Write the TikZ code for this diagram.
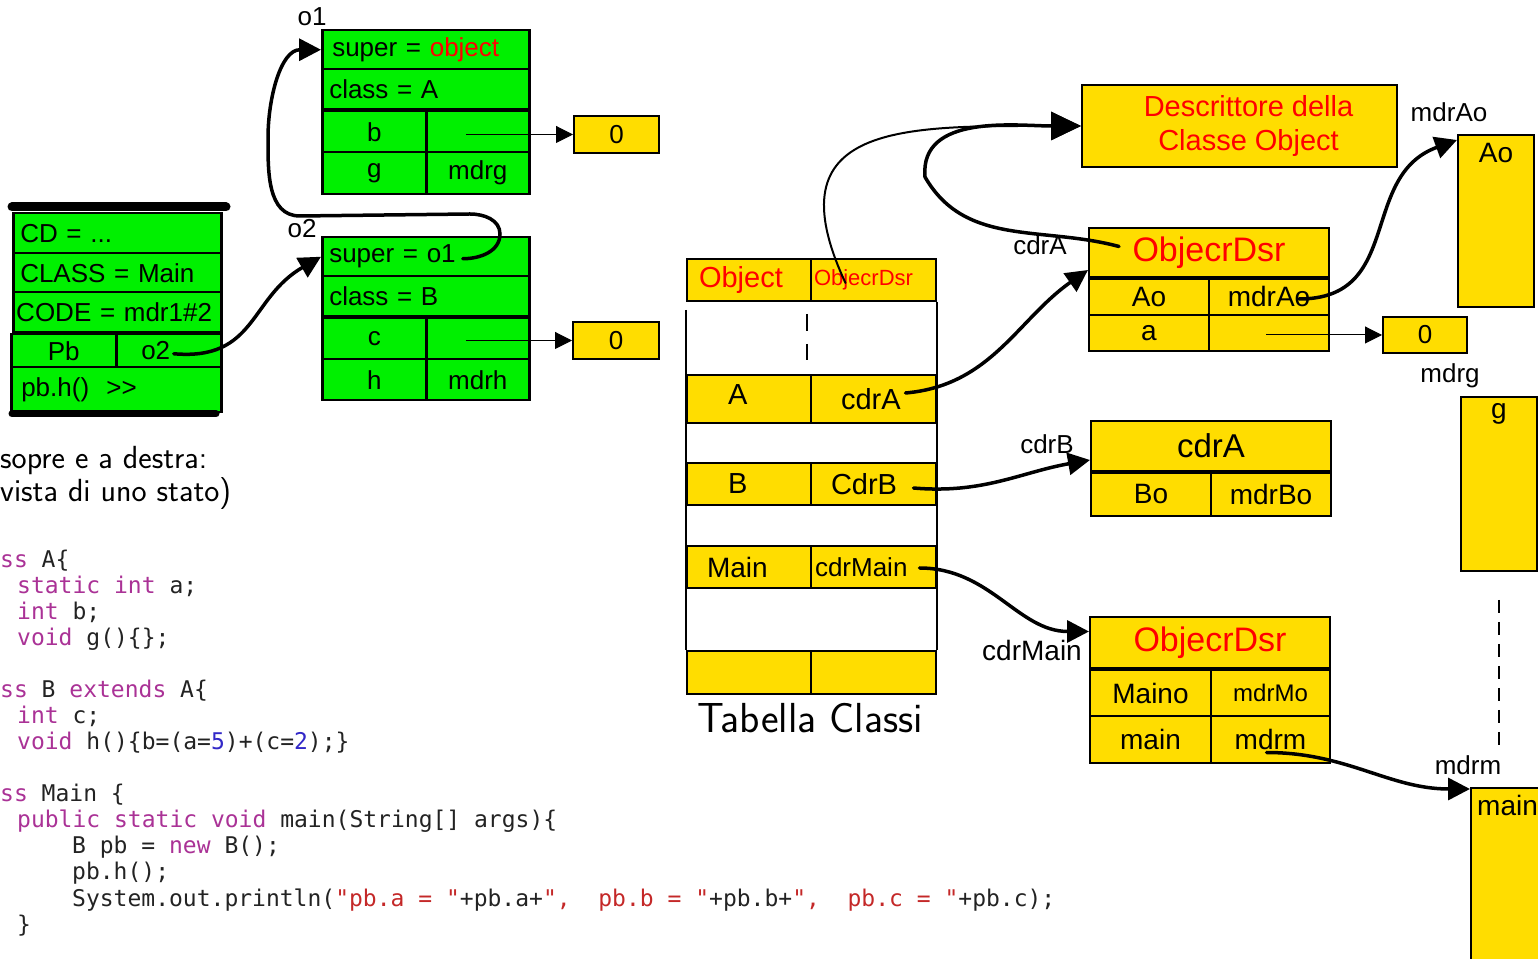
\documentclass[tikz,border=0pt]{standalone}
\usepackage{fontspec}
\setmonofont{DejaVu Sans Mono}
\newfontfamily\arial{Liberation Sans}
\usetikzlibrary{arrows.meta}
\definecolor{objgreen}{RGB}{0,240,0}
\definecolor{descyellow}{RGB}{255,221,0}
\definecolor{codekw}{RGB}{170,50,150}
\definecolor{codestr}{RGB}{196,40,40}
\definecolor{codenum}{RGB}{50,40,200}
\definecolor{codetxt}{RGB}{35,35,35}
\newcommand{\kw}[1]{\textcolor{codekw}{#1}}
\newcommand{\jstr}[1]{\textcolor{codestr}{#1}}
\newcommand{\jnum}[1]{\textcolor{codenum}{#1}}
\newcommand{\arialsz}[1]{\arial\fontsize{#1}{#1}\selectfont}
\tikzset{x=1pt,y=1pt}
\tikzset{gcell/.style={draw,fill=objgreen,line width=2.5pt,anchor=north west,inner xsep=7pt,inner ysep=0pt,font=\arialsz{26}}}
\tikzset{ycell/.style={draw,fill=descyellow,line width=2pt,anchor=north west,inner sep=0pt,font=\arialsz{29}}}
\tikzset{lbl/.style={inner sep=0pt,font=\arialsz{26}}}
\tikzset{code/.style={anchor=base west,inner sep=0pt,text=codetxt,font=\ttfamily\fontsize{23}{26}\selectfont}}
\tikzset{hand/.style={line width=3.5pt,line cap=round,-{Triangle[length=22pt,width=22pt]}}}
\tikzset{ptr/.style={line width=1pt,-{Triangle[length=17pt,width=17pt]}}}

\begin{document}
\begin{tikzpicture}
\useasboundingbox (0,0) rectangle (1538,958);
\clip (0,0) rectangle (1538,958);

% stack frame
\draw[line width=9pt,line cap=round] (12,751) -- (226,751);
\node[gcell,name=scd,text width=194pt,align=left,minimum height=40pt] at (12,746) {CD = ...};
\node[gcell,name=scl,text width=194pt,align=left,minimum height=39pt] at (12,706) {CLASS = Main};
\node[gcell,name=sco,text width=202pt,inner xsep=3pt,align=left,minimum height=40pt] at (12,667) {CODE = mdr1\#2};
\node[gcell,name=spb,minimum width=105pt,minimum height=33pt] at (10,625) {Pb};
\node[gcell,name=so2,text width=55pt,inner xsep=25pt,align=left,minimum height=33pt] at (115,625) {o2};
\node[gcell,name=scall,text width=190pt,inner xsep=10pt,align=left,minimum height=45pt] at (10,592) {pb.h()\ \ >{}>};
\draw[line width=7pt,line cap=round] (12,544) -- (216,544);

% object o1
\node[lbl,name=lo1] at (312,941) {o1};
\node[gcell,name=o1s,text width=187pt,inner xsep=10pt,align=left,minimum height=39pt] at (321,929) {super = \textcolor{red}{object}};
\node[gcell,name=o1c,text width=193pt,align=left,minimum height=40pt] at (321,890) {class = A};
\node[gcell,name=o1b,minimum width=104pt,minimum height=41pt] at (321,848) {b};
\node[gcell,name=o1bv,minimum width=103pt,minimum height=41pt] at (425,848) {};
\node[gcell,name=o1g,minimum width=104pt,minimum height=42pt] at (321,807) {g};
\node[gcell,name=o1gv,minimum width=103pt,minimum height=42pt] at (425,807) {mdrg};
\node[ycell,name=o1z,minimum width=85pt,minimum height=37pt,font=\arialsz{26}] at (573,843) {0};

% object o2
\node[lbl,name=lo2] at (302,729) {o2};
\node[gcell,name=o2s,text width=193pt,align=left,minimum height=39pt] at (321,722) {super = o1};
\node[gcell,name=o2c,text width=193pt,align=left,minimum height=40pt] at (321,683) {class = B};
\node[gcell,name=o2cc,minimum width=104pt,minimum height=41pt] at (321,641) {c};
\node[gcell,name=o2cv,minimum width=103pt,minimum height=41pt] at (425,641) {};
\node[gcell,name=o2h,minimum width=104pt,minimum height=41pt] at (321,600) {h};
\node[gcell,name=o2hv,minimum width=103pt,minimum height=41pt] at (425,600) {mdrh};
\node[ycell,name=o2z,minimum width=86pt,minimum height=37pt,font=\arialsz{26}] at (572,637) {0};

\draw[ptr] ([xshift=-12pt]o1bv.center |- o1z.west) -- (o1z.west);
\draw[ptr] ([xshift=-12pt]o2cv.center |- o2z.west) -- (o2z.west);
\draw[hand] ([xshift=5pt,yshift=-3pt]so2.center) to[out=-5,in=210,looseness=1.2] (o2s.west);
\coordinate (lpR) at (500,724);
\coordinate (lpT) at (470,744);
\coordinate (lpL) at (300,742);
\coordinate (lpU) at (268,820);
\draw[hand] ([xshift=37pt,yshift=-2pt]o2s.center) to[out=0,in=-90] (lpR) to[out=90,in=0] (lpT) -- (lpL) to[out=180,in=-90] (lpU) to[out=90,in=180] (o1s.west);

% text and code
\node[name=tsopre,anchor=base west,inner sep=0pt,font=\sffamily\fontsize{32}{38}\selectfont] at (0,489) {sopre e a destra:};
\node[name=tvista,anchor=base west,inner sep=0pt,font=\sffamily\fontsize{32}{38}\selectfont] at (0,456) {vista di uno stato)};
\node[code,name=c1] at (0,390) {\kw{ss} A\{};
\node[code,name=c2] at (17,364) {\kw{static int} a;};
\node[code,name=c3] at (17,338) {\kw{int} b;};
\node[code,name=c4] at (17,312) {\kw{void} g()\{\};};
\node[code,name=c5] at (0,260) {\kw{ss} B \kw{extends} A\{};
\node[code,name=c6] at (17,234) {\kw{int} c;};
\node[code,name=c7] at (17,208) {\kw{void} h()\{b=(a=\jnum{5})+(c=\jnum{2});\}};
\node[code,name=c8] at (0,156) {\kw{ss} Main \{};
\node[code,name=c9] at (17,130) {\kw{public static void} main(String[] args)\{};
\node[code,name=c10] at (72,104) {B pb = \kw{new} B();};
\node[code,name=c11] at (72,78) {pb.h();};
\node[code,name=c12] at (72,52) {System.out.println(\jstr{"pb.a = "}+pb.a+\jstr{",\ \ pb.b = "}+pb.b+\jstr{",\ \ pb.c = "}+pb.c);};
\node[code,name=c13] at (17,26) {\}};

% class table
\node[ycell,name=tobj,text width=100pt,inner xsep=12pt,align=left,minimum height=42pt,text=red] at (686,700) {Object};
\node[ycell,name=tobjd,text width=119pt,inner xsep=3pt,align=left,minimum height=42pt,text=red,font=\arialsz{22}] at (810,700) {ObjecrDsr};
\node[ycell,name=ta,text width=42pt,inner xsep=41pt,align=left,minimum height=48pt] at (686,584) {\raisebox{8pt}{A}};
\node[ycell,name=tav,text width=65pt,inner xsep=30pt,align=left,minimum height=48pt] at (810,584) {\raisebox{-3pt}{cdrA}};
\node[ycell,name=tb,text width=42pt,inner xsep=41pt,align=left,minimum height=42pt] at (686,496) {B};
\node[ycell,name=tbv,text width=85pt,inner xsep=20pt,align=left,minimum height=42pt] at (810,496) {CdrB};
\node[ycell,name=tm,text width=84pt,inner xsep=20pt,align=left,minimum height=42pt,font=\arialsz{28}] at (686,413) {Main};
\node[ycell,name=tmv,text width=117pt,inner xsep=4pt,align=left,minimum height=42pt,font=\arialsz{26}] at (810,413) {cdrMain};
\node[ycell,name=tend,minimum width=124pt,minimum height=43pt] at (686,308) {};
\node[ycell,name=tendv,minimum width=125pt,minimum height=43pt] at (810,308) {};
\draw[line width=2pt] ([yshift=-8pt]tobj.south west) -- (tend.north west);
\draw[line width=2pt] (tobjd.south east) -- (tendv.north east);
\draw[line width=2pt,dash pattern=on 17pt off 13pt] ([xshift=-3pt,yshift=-12pt]tobjd.south west) -- ([xshift=-3pt,yshift=-58pt]tobjd.south west);
\node[name=tcap,inner sep=0pt,font=\sffamily\fontsize{42}{50}\selectfont] at (810,240) {Tabella Classi};

% descriptors
\node[ycell,name=dobj,minimum width=315pt,minimum height=82pt,align=center,text=red,font=\arial\fontsize{29}{34}\selectfont] at (1081,874) {\hspace*{18pt}Descrittore della\\\hspace*{18pt}Classe Object};
\node[lbl,name=lcdra] at (1040,713) {cdrA};
\node[ycell,name=dah,minimum width=240pt,minimum height=49pt,text=red,font=\arialsz{34}] at (1088,731) {ObjecrDsr};
\node[ycell,name=dao,minimum width=120pt,minimum height=36pt,font=\arialsz{28}] at (1088,680) {Ao};
\node[ycell,name=daov,minimum width=120pt,minimum height=36pt,font=\arialsz{28}] at (1208,680) {mdrAo};
\node[ycell,name=daa,minimum width=120pt,minimum height=36pt,font=\arialsz{28}] at (1088,644) {a};
\node[ycell,name=daav,minimum width=120pt,minimum height=36pt] at (1208,644) {};
\node[ycell,name=daz,minimum width=84pt,minimum height=36pt,font=\arialsz{26}] at (1382,642) {0};

\node[lbl,name=lcdrb] at (1047,514) {cdrB};
\node[ycell,name=dbh,minimum width=240pt,minimum height=50pt,font=\arialsz{33}] at (1090,538) {cdrA};
\node[ycell,name=dbo,minimum width=120pt,minimum height=43pt,font=\arialsz{28}] at (1090,486) {Bo};
\node[ycell,name=dbov,minimum width=120pt,minimum height=43pt,font=\arialsz{28}] at (1210,486) {mdrBo};

\node[lbl,name=lcdrm,font=\arialsz{28}] at (1032,308) {cdrMain};
\node[ycell,name=dmh,minimum width=240pt,minimum height=51pt,text=red,font=\arialsz{34}] at (1089,342) {ObjecrDsr};
\node[ycell,name=dmo,minimum width=121pt,minimum height=46pt,font=\arialsz{28}] at (1089,289) {Maino};
\node[ycell,name=dmov,minimum width=119pt,minimum height=46pt,font=\arialsz{24}] at (1210,289) {mdrMo};
\node[ycell,name=dmm,minimum width=121pt,minimum height=47pt,font=\arialsz{28}] at (1089,243) {main};
\node[ycell,name=dmmv,minimum width=119pt,minimum height=47pt,font=\arialsz{28}] at (1210,243) {mdrm};

% method areas
\node[lbl,name=lmdrao] at (1449,846) {mdrAo};
\node[ycell,name=aobox,minimum width=76pt,minimum height=172pt] at (1457,824) {};
\node[lbl,name=aotxt,anchor=north,font=\arialsz{28}] at ([yshift=-9pt]aobox.north) {Ao};
\node[lbl,name=lmdrg] at (1450,582) {mdrg};
\node[ycell,name=gbox,minimum width=76pt,minimum height=174pt] at (1460,562) {};
\node[lbl,name=gtxt,anchor=north,font=\arialsz{28}] at ([yshift=-7pt]gbox.north) {g};
\draw[line width=2pt,dash pattern=on 13pt off 9pt] ([yshift=-28pt]gbox.south) -- ([yshift=-180pt]gbox.south);
\node[lbl,name=lmdrm] at (1468,193) {mdrm};
\node[ycell,name=mainbox,minimum width=90pt,minimum height=180pt] at (1470,171) {};
\node[lbl,name=maintxt,anchor=north west,font=\arialsz{28}] at ([xshift=7pt,yshift=-8pt]mainbox.north west) {main};

% pointers
\draw[hand,line width=2pt,-{Triangle[length=30pt,width=28pt]}] ([xshift=-28pt,yshift=-3pt]tobjd.center) to[out=115,in=180,looseness=1.6] (dobj.west);
\coordinate (dwp) at (925,781);
\draw[hand,-{Triangle[length=30pt,width=28pt]}] ([xshift=-90pt,yshift=6pt]dah.center) to[out=165,in=-60] (dwp) to[out=95,in=180] (dobj.west);
\draw[hand] ([xshift=32pt,yshift=6pt]tav.center) to[out=5,in=215] ([yshift=8pt]dah.south west);
\draw[hand] ([xshift=40pt,yshift=-4pt]tbv.center) to[out=-5,in=190] ([yshift=12pt]dbh.south west);
\draw[hand] ([xshift=46pt,yshift=-1pt]tmv.center) to[out=0,in=180] ([yshift=11pt]dmh.west);
\draw[hand] ([xshift=30pt,yshift=-2pt]daov.center) to[out=0,in=200,looseness=1.2] ([yshift=-6pt]aobox.north west);
\draw[ptr] ([xshift=-3pt]daav.center |- daz.west) -- (daz.west);
\draw[hand] ([xshift=-4pt,yshift=-13pt]dmmv.center) to[out=0,in=180] ([yshift=-2pt]mainbox.north west);
\end{tikzpicture}
\end{document}
